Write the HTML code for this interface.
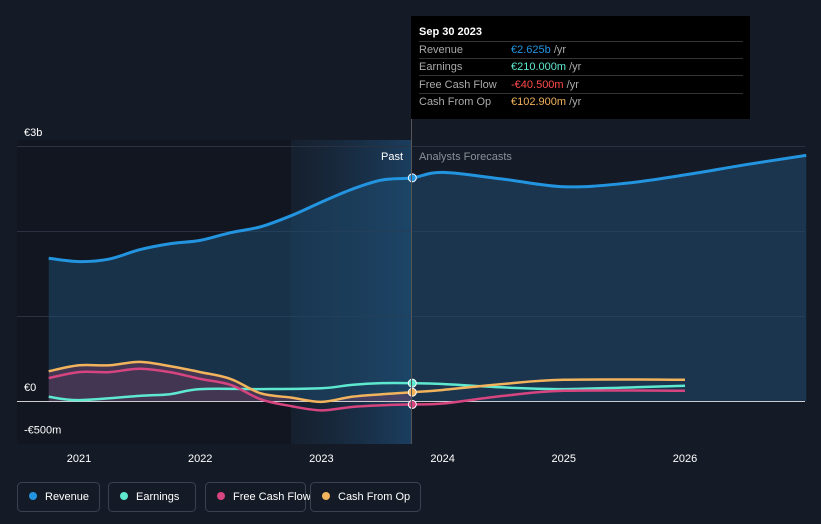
<!DOCTYPE html>
<html><head><meta charset="utf-8"><style>
body{margin:0;background:#151b26;font-family:"Liberation Sans",sans-serif;}
svg{display:block}
text{font-family:"Liberation Sans",sans-serif}
</style></head><body>
<svg id="c" width="821" height="524">
<rect width="821" height="524" fill="#151b26"/>
<defs>
<linearGradient id="pastg" x1="0" x2="1" y1="0" y2="0"><stop offset="0" stop-color="#1a3550" stop-opacity="0.2"/><stop offset="1" stop-color="#1d4d77" stop-opacity="0.7"/></linearGradient>
</defs>
<rect x="17" y="140" width="274" height="304" fill="#111620"/>
<rect x="291" y="140" width="120" height="304" fill="url(#pastg)"/>
<g id="grid"></g>
<g id="marks"></g>
<g id="axis"></g>
<g id="tooltip">
<rect x="411" y="16" width="339" height="103" fill="#000"/>
<text x="419" y="35" fill="#fff" font-size="11" font-weight="bold">Sep 30 2023</text>
<line x1="419" x2="743" y1="41.5" y2="41.5" stroke="#333"/>
<text x="419" y="53" fill="#aaa" font-size="11">Revenue</text><text x="511" y="53" fill="#2394df" font-size="11">€2.625b <tspan fill="#aaa">/yr</tspan></text>
<line x1="419" x2="743" y1="58.5" y2="58.5" stroke="#333"/>
<text x="419" y="70" fill="#aaa" font-size="11">Earnings</text><text x="511" y="70" fill="#5fe8d0" font-size="11">€210.000m <tspan fill="#aaa">/yr</tspan></text>
<line x1="419" x2="743" y1="75.5" y2="75.5" stroke="#333"/>
<text x="419" y="88" fill="#aaa" font-size="11">Free Cash Flow</text><text x="511" y="88" fill="#ff4b4b" font-size="11">-€40.500m <tspan fill="#aaa">/yr</tspan></text>
<line x1="419" x2="743" y1="93.5" y2="93.5" stroke="#333"/>
<text x="419" y="105" fill="#aaa" font-size="11">Cash From Op</text><text x="511" y="105" fill="#f2b35d" font-size="11">€102.900m <tspan fill="#aaa">/yr</tspan></text>
</g>
<line x1="411.5" x2="411.5" y1="119" y2="444" stroke="#555"/>
<text x="403" y="160" fill="#fff" font-size="11" text-anchor="end">Past</text>
<text x="419" y="160" fill="#8a8f98" font-size="11">Analysts Forecasts</text>
<g id="legend"></g>
</svg>
<script>
const revX=[2020.75,2021,2021.25,2021.5,2021.75,2022,2022.25,2022.5,2022.75,2023,2023.25,2023.5,2023.75,2024,2024.5,2025,2025.5,2026,2026.5,2027];
const revenue=[1.68,1.64,1.67,1.78,1.85,1.89,1.98,2.05,2.18,2.34,2.49,2.60,2.625,2.69,2.61,2.52,2.56,2.66,2.78,2.89];
const earnX=[2020.75,2021,2021.5,2021.75,2022,2022.5,2023,2023.25,2023.5,2023.75,2024,2024.5,2025,2026];
const earnings=[0.05,0.01,0.06,0.08,0.14,0.14,0.15,0.19,0.21,0.21,0.2,0.16,0.14,0.18];
const cfX=[2020.75,2021,2021.25,2021.5,2021.75,2022,2022.25,2022.5,2022.75,2023,2023.25,2023.5,2023.75,2024,2024.5,2025,2026];
const fcf=[0.27,0.34,0.34,0.38,0.34,0.26,0.19,0.02,-0.06,-0.11,-0.07,-0.05,-0.04,-0.03,0.06,0.12,0.12];
const cfo=[0.35,0.42,0.42,0.46,0.41,0.34,0.26,0.09,0.04,-0.01,0.05,0.08,0.103,0.13,0.2,0.25,0.25];
const yTicks=[3,0,-0.5];
const yTickLabels=["€3b","€0","-€500m"];
const xTicks=[2021,2022,2023,2024,2025,2026];
const NOW=2023.75;
const X=v=>79+(v-2021)*121.2;
const Y=v=>401-v*85;
const NS='http://www.w3.org/2000/svg';
function mk(t,a,p){const e=document.createElementNS(NS,t);for(const k in a)e.setAttribute(k,a[k]);p.appendChild(e);return e;}
const grid=document.getElementById('grid'),marks=document.getElementById('marks'),axis=document.getElementById('axis'),leg=document.getElementById('legend');
[3,2,1].forEach(v=>{const l=mk('line',{x1:17,x2:805,y1:Y(v)+.5,y2:Y(v)+.5,stroke:'#2a3140'},grid);});
yTicks.forEach((v,i)=>{const t=mk('text',{x:24,y:Y(v)-10+(v<0?0:0),fill:'#fff','font-size':11},axis);t.textContent=yTickLabels[i];});
xTicks.forEach(v=>{const t=mk('text',{x:X(v),y:462,fill:'#fff','font-size':11,'text-anchor':'middle'},axis);t.textContent=v;});
const pts=(xs,ys)=>xs.map((x,i)=>[X(x),Y(ys[i])]);
function smooth(p){let d='M'+p[0][0]+','+p[0][1];for(let i=0;i<p.length-1;i++){const p0=p[i-1]||p[i],p1=p[i],p2=p[i+1],p3=p[i+2]||p2;const c1=[p1[0]+(p2[0]-p0[0])/6,p1[1]+(p2[1]-p0[1])/6],c2=[p2[0]-(p3[0]-p1[0])/6,p2[1]-(p3[1]-p1[1])/6];d+=`C${c1[0]},${c1[1]} ${c2[0]},${c2[1]} ${p2[0]},${p2[1]}`;}return d;}
const rp=pts(revX,revenue);
let a=mk('path',{d:smooth(rp)+`L${rp[rp.length-1][0]},${Y(0)}L${rp[0][0]},${Y(0)}Z`,fill:'#1f4a6e','fill-opacity':0.55},marks);
const pi=cfX.indexOf(NOW)+1;
const cp=pts(cfX.slice(0,pi),cfo.slice(0,pi));
a=mk('path',{d:smooth(cp)+`L${cp[cp.length-1][0]},${Y(0)}L${cp[0][0]},${Y(0)}Z`,fill:'#c0446e','fill-opacity':0.25},marks);
const z=mk('line',{x1:17,x2:805,y1:Y(0)+.5,y2:Y(0)+.5,stroke:'#ccc'},marks);


const series=[[earnX,earnings,'#5fe8d0','earnings-line'],[cfX,fcf,'#d6457f','free-cash-flow-line'],[cfX,cfo,'#f2b35d','cash-from-op-line'],[revX,revenue,'#2394df','revenue-line']];
series.forEach(([xs,ys,c,n])=>{const l=mk('path',{d:smooth(pts(xs,ys)),fill:'none',stroke:c,'stroke-width':n=='revenue-line'?3:2.5},marks);
const i=xs.indexOf(NOW);const d=mk('circle',{cx:X(NOW),cy:Y(ys[i]),r:4,fill:c,stroke:'#fff','stroke-width':1},marks);});
const items=[['Revenue','#2394df',17,82],['Earnings','#5fe8d0',108,87],['Free Cash Flow','#d6457f',205,100],['Cash From Op','#f2b35d',310,110]];
items.forEach(([t,c,x,w])=>{const g=mk('g',{},leg);
mk('rect',{x:x+.5,y:482.5,width:w,height:29,rx:4,fill:'none',stroke:'#3a4150'},g);mk('circle',{cx:x+16,cy:496,r:4,fill:c},g);const tx=mk('text',{x:x+28,y:500,fill:'#fff','font-size':11},g);tx.textContent=t;});
</script>
</body></html>
